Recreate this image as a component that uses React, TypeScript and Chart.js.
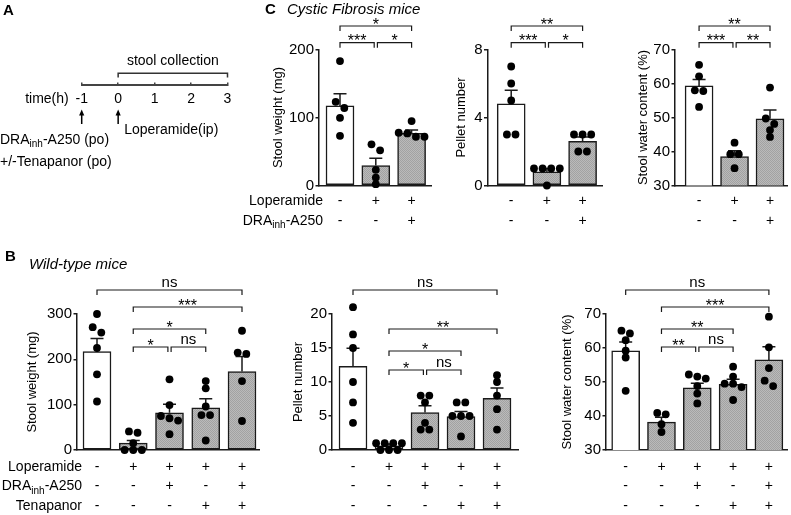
import React, { useEffect, useRef } from 'react';
import { Chart, registerables } from 'chart.js';

Chart.register(...registerables);

const W = 791;
const H = 515;
const FONT = '"Liberation Sans", Arial, Helvetica, sans-serif';
const INK = '#1a1a1a';
const POINT_R = 3.9;
Chart.defaults.font.family = FONT;
Chart.defaults.color = '#000';

// ---------------- Panel A (timeline) ----------------
const timeTicks = [-1, 0, 1, 2, 3];
const collectionWindow = [0, 3];
const drugDoseTime = -1;
const loperamideTime = 0;

// ---------------- Panel B: wild-type mice ----------------
const wtRowNames = ['Loperamide', 'DRA|inh|-A250', 'Tenapanor'];
const wtLoperamide = ['-', '+', '+', '+', '+'];
const wtDRA = ['-', '-', '+', '-', '+'];
const wtTenapanor = ['-', '-', '-', '+', '+'];

const wtWeightMean = [217, 15, 82, 93, 173];
const wtWeightSem = [29, 6, 19, 20, 33];
const wtWeightPoints = [
  [300, 271, 259, 225, 167, 107],
  [41, 38, 15, 0, 0, 0],
  [156, 99, 75, 70, 65, 35],
  [152, 136, 96, 77, 77, 21],
  [263, 215, 212, 152, 64],
];
const wtWeightSig: [number, number, string, number][] = [
  [1, 2, '*', 0], [2, 3, 'ns', 0], [1, 3, '*', 1], [1, 4, '***', 2], [0, 4, 'ns', 3],
];

const wtPelletMean = [12.3, 0.6, 5.5, 4.9, 7.6];
const wtPelletSem = [2.65, 0.3, 1.0, 0.75, 1.5];
const wtPelletPoints = [
  [21, 17, 15, 10, 7, 4],
  [1, 1, 1, 1, 0, 0, 0],
  [8, 8, 7, 4, 3, 3],
  [7, 7, 5, 5, 5, 2],
  [11, 10, 8, 6, 3],
];
const wtPelletSig: [number, number, string, number][] = [
  [1, 2, '*', 0], [2, 3, 'ns', 0], [1, 3, '*', 1], [1, 4, '**', 2], [0, 4, 'ns', 3],
];

const wtWaterMean = [59.2, 38.2, 48.3, 49.3, 56.5];
const wtWaterSem = [2.6, 1.4, 1.3, 1.5, 3.9];
const wtWaterPoints = [
  [65.1, 64.3, 62.3, 59.2, 57.2, 47.4],
  [40.9, 40.5, 37.6, 35.3],
  [52.2, 51.6, 51.0, 48.8, 46.6, 43.7],
  [54.5, 51.6, 49.5, 49.5, 48.5, 44.7],
  [69.2, 60.2, 54.1, 50.4, 48.8],
];
const wtWaterSig: [number, number, string, number][] = [
  [1, 2, '**', 0], [2, 3, 'ns', 0], [1, 3, '**', 1], [1, 4, '***', 2], [0, 4, 'ns', 3],
];

// ---------------- Panel C: cystic fibrosis mice ----------------
const cfRowNames = ['Loperamide', 'DRA|inh|-A250'];
const cfLoperamide = ['-', '+', '+'];
const cfDRA = ['-', '-', '+'];

const cfWeightMean = [117, 29.3, 76.6];
const cfWeightSem = [18, 10.7, 4.9];
const cfWeightPoints = [
  [183, 123, 114, 99.5, 73],
  [60.5, 51.8, 23, 11.7, 2],
  [94.7, 77.6, 76.6, 71.7, 71.7],
];
const cfWeightSig: [number, number, string, number][] = [
  [0, 1, '***', 0], [1, 2, '*', 0], [0, 2, '*', 1],
];

const cfPelletMean = [4.8, 0.8, 2.6];
const cfPelletSem = [0.8, 0.2, 0.25];
const cfPelletPoints = [
  [7, 6, 5, 3, 3],
  [1, 1, 1, 1, 0],
  [3, 3, 3, 2, 2],
];
const cfPelletSig: [number, number, string, number][] = [
  [0, 1, '***', 0], [1, 2, '*', 0], [0, 2, '**', 1],
];

const cfWaterMean = [59.3, 38.5, 49.6];
const cfWaterSem = [1.9, 1.7, 2.6];
const cfWaterPoints = [
  [65.5, 62.1, 58, 57.8, 53.1],
  [42.6, 39.2, 39.2, 35.1],
  [58.8, 49.7, 48.1, 46.3, 44.3],
];
const cfWaterSig: [number, number, string, number][] = [
  [0, 1, '***', 0], [1, 2, '**', 0], [0, 2, '**', 1],
];

// ---------------- Layout frames (pixel geometry) ----------------
type Frame = {
  axisX: number; firstCenter: number; spacing: number; right: number;
  top: number; bottom: number; titleX: number; tierY: number[];
  rowFirst: number; rowLH: number; rowNameRight?: number;
};
const FB1: Frame = { axisX: 77, firstCenter: 97, spacing: 36.25, right: 259, top: 314, bottom: 450, titleX: 32, tierY: [347, 329, 307, 290], rowFirst: 467, rowLH: 19.5, rowNameRight: 82 };
const FB2: Frame = { axisX: 332, firstCenter: 353, spacing: 36, right: 518, top: 314, bottom: 450, titleX: 298, tierY: [370, 351, 329, 290], rowFirst: 467, rowLH: 19.5 };
const FB3: Frame = { axisX: 606, firstCenter: 626, spacing: 36.4, right: 790, top: 314, bottom: 450, titleX: 567, tierY: [347, 329, 307, 290], rowFirst: 467, rowLH: 19.5 };
const FC1: Frame = { axisX: 319, firstCenter: 340, spacing: 35.8, right: 431, top: 49.5, bottom: 185.5, titleX: 278, tierY: [42.7, 26], rowFirst: 201, rowLH: 20, rowNameRight: 323 };
const FC2: Frame = { axisX: 487.5, firstCenter: 511.2, spacing: 35.7, right: 602, top: 49.5, bottom: 185.5, titleX: 461, tierY: [42.7, 26], rowFirst: 201, rowLH: 20 };
const FC3: Frame = { axisX: 675, firstCenter: 699.5, spacing: 36.1, right: 789, top: 49.5, bottom: 185.5, titleX: 643, tierY: [42.7, 26], rowFirst: 201, rowLH: 20 };

type Spec = {
  rows: string[][]; rowNames?: string[];
  mean: number[]; sem: number[]; points: number[][];
  sig: [number, number, string, number][];
  yTitle: string; yMin: number; yMax: number; yStep: number; frame: Frame;
};

const specs: Spec[] = [
  { rows: [wtLoperamide, wtDRA, wtTenapanor], rowNames: wtRowNames, mean: wtWeightMean, sem: wtWeightSem, points: wtWeightPoints, sig: wtWeightSig, yTitle: 'Stool weight (mg)', yMin: 0, yMax: 300, yStep: 100, frame: FB1 },
  { rows: [wtLoperamide, wtDRA, wtTenapanor], mean: wtPelletMean, sem: wtPelletSem, points: wtPelletPoints, sig: wtPelletSig, yTitle: 'Pellet number', yMin: 0, yMax: 20, yStep: 5, frame: FB2 },
  { rows: [wtLoperamide, wtDRA, wtTenapanor], mean: wtWaterMean, sem: wtWaterSem, points: wtWaterPoints, sig: wtWaterSig, yTitle: 'Stool water content (%)', yMin: 30, yMax: 70, yStep: 10, frame: FB3 },
  { rows: [cfLoperamide, cfDRA], rowNames: cfRowNames, mean: cfWeightMean, sem: cfWeightSem, points: cfWeightPoints, sig: cfWeightSig, yTitle: 'Stool weight (mg)', yMin: 0, yMax: 200, yStep: 100, frame: FC1 },
  { rows: [cfLoperamide, cfDRA], mean: cfPelletMean, sem: cfPelletSem, points: cfPelletPoints, sig: cfPelletSig, yTitle: 'Pellet number', yMin: 0, yMax: 8, yStep: 4, frame: FC2 },
  { rows: [cfLoperamide, cfDRA], mean: cfWaterMean, sem: cfWaterSem, points: cfWaterPoints, sig: cfWaterSig, yTitle: 'Stool water content (%)', yMin: 30, yMax: 70, yStep: 10, frame: FC3 },
];

// ---------------- helpers ----------------
function swarm(vals: number[], ppu: number, unitPx: number) {
  const sorted = [...vals].sort((a, b) => b - a);
  const clusters: number[][] = [];
  for (const v of sorted) {
    const c = clusters[clusters.length - 1];
    if (c && (c[0] - v) * ppu < 6.3) c.push(v);
    else clusters.push([v]);
  }
  return clusters.flatMap((c) => c.map((v, j) => ({ dx: ((j - (c.length - 1) / 2) * 8.6) / unitPx, y: v })));
}

function drawRich(ctx: CanvasRenderingContext2D, label: string, x: number, y: number, align: 'left' | 'right', size: number) {
  const parts = label.split('|').map((t, k) => ({ t, sub: k % 2 === 1 }));
  const fN = `${size}px ${FONT}`;
  const fS = `${Math.round(size * 0.7)}px ${FONT}`;
  let total = 0;
  parts.forEach((p) => { ctx.font = p.sub ? fS : fN; total += ctx.measureText(p.t).width; });
  let cx = align === 'right' ? x - total : x;
  ctx.textAlign = 'left';
  ctx.textBaseline = 'middle';
  ctx.fillStyle = '#000';
  parts.forEach((p) => {
    ctx.font = p.sub ? fS : fN;
    ctx.fillText(p.t, cx, p.sub ? y + size * 0.32 : y);
    cx += ctx.measureText(p.t).width;
  });
}

function makeGrayPattern(): CanvasPattern | string {
  const c = document.createElement('canvas');
  c.width = 2; c.height = 2;
  const g = c.getContext('2d');
  if (!g) return '#afafaf';
  g.fillStyle = '#bababa'; g.fillRect(0, 0, 2, 2);
  g.fillStyle = '#a2a2a2'; g.fillRect(0, 0, 1, 1); g.fillRect(1, 1, 1, 1);
  const ctx = document.createElement('canvas').getContext('2d');
  const p = ctx ? ctx.createPattern(c, 'repeat') : null;
  return p || '#afafaf';
}

function buildBar(canvas: HTMLCanvasElement, spec: Spec) {
  const f = spec.frame;
  const xmin = -(f.firstCenter - f.axisX) / f.spacing;
  const xmax = xmin + (f.right - f.axisX) / f.spacing;
  const padLeft = f.titleX - 7.8;
  const yWidth = f.axisX - padLeft;
  const XH = H - f.bottom - 1;
  const ppu = (f.bottom - f.top) / (spec.yMax - spec.yMin);
  const gray = makeGrayPattern();
  const scatter = spec.points.flatMap((vals, i) => swarm(vals, ppu, f.spacing).map((p) => ({ x: i + p.dx, y: p.y })));

  const plugin = {
    id: 'stats',
    afterDatasetDraw(chart: any, args: any) {
      const { ctx } = chart;
      if (args.index === 1) {
        // Chart.js skips points lying outside the chart area; draw those from the element positions.
        const area = chart.chartArea;
        ctx.save();
        ctx.fillStyle = '#000';
        args.meta.data.forEach((el: any) => {
          if (el.y < area.top - POINT_R * 0.8 || el.y > area.bottom + POINT_R * 0.8) {
            ctx.beginPath();
            ctx.arc(el.x, el.y, POINT_R, 0, Math.PI * 2);
            ctx.fill();
          }
        });
        ctx.restore();
        return;
      }
      if (args.index !== 0) return;
      const xs = chart.scales.x;
      const ys = chart.scales.y;
      ctx.save();
      ctx.strokeStyle = INK;
      ctx.lineWidth = 1.5;
      spec.mean.forEach((m, i) => {
        const px = xs.getPixelForValue(i);
        const y0 = ys.getPixelForValue(m);
        const y1 = ys.getPixelForValue(m + spec.sem[i]);
        ctx.beginPath();
        ctx.moveTo(px, y0); ctx.lineTo(px, y1);
        ctx.moveTo(px - 6.5, y1); ctx.lineTo(px + 6.5, y1);
        ctx.stroke();
      });
      ctx.restore();
    },
    afterDraw(chart: any) {
      const { ctx } = chart;
      const xs = chart.scales.x;
      ctx.save();
      ctx.strokeStyle = INK;
      ctx.lineWidth = 1.2;
      ctx.fillStyle = '#000';
      spec.sig.forEach((s) => {
        const [a, b, label, tier] = s;
        const y0 = f.tierY[tier];
        let x1 = xs.getPixelForValue(a);
        let x2 = xs.getPixelForValue(b);
        const others = spec.sig.filter((o) => o !== s && o[3] === tier);
        if (others.some((o) => o[1] === a)) x1 += 1.6;
        if (others.some((o) => o[0] === b)) x2 -= 1.6;
        ctx.beginPath();
        ctx.moveTo(x1, y0 + 5); ctx.lineTo(x1, y0); ctx.lineTo(x2, y0); ctx.lineTo(x2, y0 + 5);
        ctx.stroke();
        ctx.textAlign = 'center';
        ctx.textBaseline = 'alphabetic';
        if (label.includes('*')) {
          ctx.font = `16px ${FONT}`;
          ctx.fillText(label, (x1 + x2) / 2, y0 + 3.5);
        } else {
          ctx.font = `15px ${FONT}`;
          ctx.fillText(label, (x1 + x2) / 2, y0 - 3);
        }
      });
      if (spec.rowNames && f.rowNameRight !== undefined) {
        spec.rowNames.forEach((name, r) => drawRich(ctx, name, f.rowNameRight as number, f.rowFirst + r * f.rowLH, 'right', 14));
      }
      ctx.restore();
    },
  };

  return new Chart(canvas, {
    type: 'bar',
    data: {
      datasets: [
        {
          type: 'bar',
          data: spec.mean.map((m, i) => ({ x: i, y: m })),
          backgroundColor: spec.mean.map((_, i) => (i === 0 ? '#ffffff' : gray)),
          borderColor: INK,
          borderWidth: 1.5,
          borderSkipped: false,
          barThickness: 28,
          order: 1,
        } as any,
        {
          type: 'scatter',
          data: scatter,
          pointRadius: POINT_R,
          pointBackgroundColor: '#000',
          pointBorderWidth: 0,
          clip: false,
          order: 0,
        } as any,
      ],
    },
    options: {
      responsive: false,
      maintainAspectRatio: false,
      animation: false,
      events: [],
      layout: { padding: { left: padLeft, top: f.top, right: W - f.right, bottom: H - f.bottom - XH } },
      plugins: { legend: { display: false }, tooltip: { enabled: false } },
      scales: {
        x: {
          type: 'linear',
          offset: false,
          min: xmin,
          max: xmax,
          grid: { display: false, drawTicks: false, offset: false },
          border: { display: true, color: INK, width: 1.5 },
          ticks: {
            autoSkip: false,
            maxRotation: 0,
            color: '#000',
            padding: f.rowFirst - f.bottom - f.rowLH / 2,
            font: { size: 14, lineHeight: `${f.rowLH}px` },
            callback: (v: any) => spec.rows.map((row) => row[Math.round(Number(v))] ?? ''),
          },
          afterBuildTicks: (s: any) => { s.ticks = spec.mean.map((_, i) => ({ value: i })); },
          afterFit: (s: any) => { s.height = XH; },
        },
        y: {
          min: spec.yMin,
          max: spec.yMax,
          ticks: { stepSize: spec.yStep, color: '#000', padding: 1.5, font: { size: 15 } },
          grid: { display: true, drawOnChartArea: false, drawTicks: true, tickLength: 3.5, color: INK, lineWidth: 1.5 },
          border: { display: true, color: INK, width: 1.5 },
          title: { display: true, text: spec.yTitle, color: '#000', padding: 0, font: { size: 13, lineHeight: 1.2 } },
          afterFit: (s: any) => { s.width = yWidth; },
        },
      },
    } as any,
    plugins: [plugin as any],
  });
}

function buildTimeline(canvas: HTMLCanvasElement) {
  const left = 81.7;
  const right = 227.5;
  const top = 82.5;
  const bottom = 84.5;
  const XH = 40;
  const plugin = {
    id: 'timeline',
    afterDraw(chart: any) {
      const { ctx } = chart;
      const xs = chart.scales.x;
      const xa = xs.getPixelForValue(collectionWindow[0]);
      const xb = xs.getPixelForValue(collectionWindow[1]);
      ctx.save();
      ctx.strokeStyle = '#333';
      ctx.lineWidth = 1.5;
      ctx.beginPath();
      ctx.moveTo(xa, 77.5); ctx.lineTo(xa, 73.3); ctx.lineTo(xb, 73.3); ctx.lineTo(xb, 77.5);
      ctx.stroke();
      ctx.fillStyle = '#000';
      ctx.font = `14px ${FONT}`;
      ctx.textBaseline = 'middle';
      ctx.textAlign = 'center';
      ctx.fillText('stool collection', (xa + xb) / 2, 61);
      ctx.textAlign = 'right';
      ctx.fillText('time(h)', xs.getPixelForValue(drugDoseTime) - 13, 99);
      [drugDoseTime, loperamideTime].forEach((t) => {
        const px = xs.getPixelForValue(t);
        ctx.strokeStyle = '#000';
        ctx.lineWidth = 1.5;
        ctx.beginPath();
        ctx.moveTo(px, 124); ctx.lineTo(px, 113);
        ctx.stroke();
        ctx.fillStyle = '#000';
        ctx.beginPath();
        ctx.moveTo(px - 2.6, 115.5); ctx.lineTo(px, 109.5); ctx.lineTo(px + 2.6, 115.5); ctx.closePath();
        ctx.fill();
      });
      ctx.textAlign = 'left';
      ctx.fillText('Loperamide(ip)', xs.getPixelForValue(loperamideTime) + 6, 130);
      drawRich(ctx, 'DRA|inh|-A250 (po)', 0, 140, 'left', 14);
      ctx.font = `14px ${FONT}`;
      ctx.textBaseline = 'middle';
      ctx.textAlign = 'left';
      ctx.fillText('+/-Tenapanor (po)', 0, 162);
      ctx.restore();
    },
  };
  return new Chart(canvas, {
    type: 'scatter',
    data: { datasets: [{ data: [] }] },
    options: {
      responsive: false,
      maintainAspectRatio: false,
      animation: false,
      events: [],
      layout: { padding: { left, right: W - right, top, bottom: H - bottom - XH } },
      plugins: { legend: { display: false }, tooltip: { enabled: false } },
      scales: {
        x: {
          type: 'linear',
          offset: false,
          min: timeTicks[0],
          max: timeTicks[timeTicks.length - 1],
          grid: { display: true, drawOnChartArea: true, drawTicks: true, tickLength: 1.5, color: '#444', lineWidth: 1.5 },
          border: { display: true, color: '#444', width: 2 },
          ticks: { color: '#000', padding: 4.6, font: { size: 14, lineHeight: 1.2 }, callback: (v: any) => String(v) },
          afterBuildTicks: (s: any) => { s.ticks = timeTicks.map((v) => ({ value: v })); },
          afterFit: (s: any) => { s.height = XH; },
        },
        y: { display: false, min: 0, max: 1 },
      },
    } as any,
    plugins: [plugin as any],
  });
}

function ChartCanvas({ build }: { build: (c: HTMLCanvasElement) => Chart }) {
  const ref = useRef<HTMLCanvasElement>(null);
  useEffect(() => {
    if (!ref.current) return;
    const ch = build(ref.current);
    return () => ch.destroy();
  }, []);
  return (
    <canvas
      ref={ref}
      width={W}
      height={H}
      style={{ position: 'absolute', left: 0, top: 0, width: W, height: H }}
    />
  );
}

const letterStyle = (left: number, top: number): React.CSSProperties => ({
  position: 'absolute', left, top, font: `bold 15px ${FONT}`, lineHeight: '17px', color: '#000',
});
const italicStyle = (left: number, top: number): React.CSSProperties => ({
  position: 'absolute', left, top, font: `italic 15px ${FONT}`, lineHeight: '17px', color: '#000', whiteSpace: 'nowrap',
});

export default function App() {
  return (
    <div style={{ position: 'absolute', left: 0, top: 0, width: W, height: H, background: '#fff', overflow: 'hidden' }}>
      <ChartCanvas build={buildTimeline} />
      {specs.map((s, i) => (
        <ChartCanvas key={i} build={(c) => buildBar(c, s)} />
      ))}
      <div style={letterStyle(3, 0.5)}>A</div>
      <div style={letterStyle(5, 247)}>B</div>
      <div style={letterStyle(265, 0)}>C</div>
      <div style={italicStyle(287, 0)}>Cystic Fibrosis mice</div>
      <div style={italicStyle(29, 255)}>Wild-type mice</div>
    </div>
  );
}
